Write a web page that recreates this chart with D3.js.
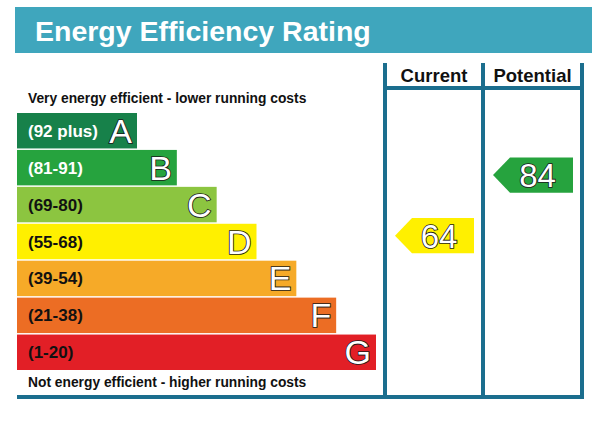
<!DOCTYPE html>
<html>
<head>
<meta charset="utf-8">
<script src="https://cdn.jsdelivr.net/npm/d3@7"></script>
<style>
  html, body { margin: 0; padding: 0; background: #fff; }
  svg { display: block; font-family: "Liberation Sans", Arial, sans-serif; }
</style>
</head>
<body>
<svg id="chart" width="606" height="437"></svg>
<script>
// ---- data ----
const bands = ["A", "B", "C", "D", "E", "F", "G"];
const rangeLabels = ["(92 plus)", "(81-91)", "(69-80)", "(55-68)", "(39-54)", "(21-38)", "(1-20)"];
const bandMax = [100, 91, 80, 68, 54, 38, 20];
const bandMin = [92, 81, 69, 55, 39, 21, 1];
const bandColors = ["#17814a", "#26a33e", "#8cc540", "#fff000", "#f6aa28", "#ec6d24", "#e21f26"];
const labelColors = ["#ffffff", "#ffffff", "#111111", "#111111", "#111111", "#111111", "#111111"];
const columns = ["Current", "Potential"];
const ratings = [64, 84];
const titleText = "Energy Efficiency Rating";
const topNote = "Very energy efficient - lower running costs";
const bottomNote = "Not energy efficient - higher running costs";

// ---- layout ----
const svg = d3.select("#chart");
const lineColor = "#1b6e8e";

// title banner
svg.append("rect").attr("x", 15).attr("y", 7).attr("width", 577).attr("height", 46).attr("fill", "#3fa6bd");
svg.append("text").attr("x", 35).attr("y", 41).attr("fill", "#fff")
  .attr("font-size", 28.5).attr("font-weight", "bold").text(titleText);

// scales
const y = d3.scaleBand().domain(bands).range([113, 370]).paddingInner(0.04).paddingOuter(0);
const barEnd = d3.scaleLinear().domain([0, bands.length - 1]).range([137, 376]);
const barStart = 17;

// value -> y (piecewise through band edges)
const valDomain = bandMax.map(v => v + 0.5).concat([bandMin[bandMin.length - 1] - 0.5]);
const valRange = bands.map(b => y(b)).concat([y(bands[bands.length - 1]) + y.step()]);
const vy = d3.scaleLinear().domain(valDomain).range(valRange);

// bars
const g = svg.append("g");
bands.forEach((b, i) => {
  const top = y(b), h = y.bandwidth(), xe = barEnd(i);
  g.append("rect").attr("x", barStart).attr("y", top).attr("width", xe - barStart).attr("height", h)
    .attr("fill", bandColors[i]);
  g.append("text").attr("x", 28).attr("y", top + h / 2 + 6)
    .attr("font-size", 17).attr("font-weight", "bold").attr("fill", labelColors[i])
    .text(rangeLabels[i]);
  g.append("text").attr("x", xe - 5).attr("y", top + h / 2 + 12).attr("text-anchor", "end")
    .attr("font-size", 34).attr("fill", "#fff").attr("stroke", "#1a1a1a").attr("stroke-width", 1.7)
    .attr("paint-order", "stroke").text(b);
});

// notes
svg.append("text").attr("x", 28).attr("y", 103).attr("font-size", 13.8).attr("font-weight", "bold")
  .attr("fill", "#111").text(topNote);
svg.append("text").attr("x", 28).attr("y", 387).attr("font-size", 13.8).attr("font-weight", "bold")
  .attr("fill", "#111").text(bottomNote);

// table
const colX = d3.scaleOrdinal().domain([0, 1, 2]).range([385, 483, 582]);
const tableTop = 63, headerLine = 88, tableBottom = 397;
[0, 1, 2].forEach(k => {
  svg.append("line").attr("x1", colX(k)).attr("x2", colX(k)).attr("y1", tableTop).attr("y2", tableBottom + 2)
    .attr("stroke", lineColor).attr("stroke-width", 4);
});
svg.append("line").attr("x1", colX(0)).attr("x2", colX(2) + 2).attr("y1", headerLine).attr("y2", headerLine)
  .attr("stroke", lineColor).attr("stroke-width", 4);
svg.append("line").attr("x1", 17).attr("x2", colX(2) + 2).attr("y1", tableBottom).attr("y2", tableBottom)
  .attr("stroke", lineColor).attr("stroke-width", 4);

columns.forEach((c, k) => {
  svg.append("text").attr("x", (colX(k) + colX(k + 1)) / 2).attr("y", 82).attr("text-anchor", "middle")
    .attr("font-size", 18.5).attr("font-weight", "bold").attr("fill", "#111").text(c);
});

// arrows
ratings.forEach((v, k) => {
  const idx = bands.findIndex((b, i) => v >= bandMin[i] && v <= bandMax[i]);
  const cy = vy(v), h = y.bandwidth();
  const x0 = colX(k) + 10, x1 = colX(k + 1) - 9, pt = 17;
  const path = d3.path();
  path.moveTo(x0, cy);
  path.lineTo(x0 + pt, cy - h / 2);
  path.lineTo(x1, cy - h / 2);
  path.lineTo(x1, cy + h / 2);
  path.lineTo(x0 + pt, cy + h / 2);
  path.closePath();
  svg.append("path").attr("d", path.toString()).attr("fill", bandColors[idx]);
  svg.append("text").attr("x", (x0 + pt + x1) / 2 - 4).attr("y", cy + 12).attr("text-anchor", "middle")
    .attr("font-size", 33).attr("fill", "#fff").attr("stroke", "#1a1a1a").attr("stroke-width", 1.7)
    .attr("paint-order", "stroke").text(v);
});
</script>
</body>
</html>
